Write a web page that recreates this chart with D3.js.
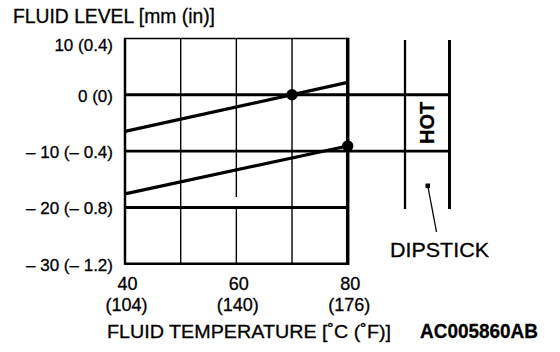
<!DOCTYPE html>
<html>
<head>
<meta charset="utf-8">
<script src="https://cdn.jsdelivr.net/npm/d3@7"></script>
<style>
  body { margin: 0; background: #fff; }
  text { font-family: "Liberation Sans", Arial, Helvetica, sans-serif; fill: #000; stroke: #000; stroke-width: 0.3px; }
</style>
</head>
<body>
<div id="chart"></div>
<script>
// temperature ticks (deg C) and their deg F labels
var tempC = [40, 60, 80];
var tempF = ["(104)", "(140)", "(176)"];
var gridC = [40, 50, 60, 70, 80];

// fluid level ticks, mm and inch labels
var levelMm = [10, 0, -10, -20, -30];
var levelIn = ["(0.4)", "(0)", "(– 0.4)", "(– 0.8)", "(– 1.2)"];
var levelMmText = ["10", "0", "– 10", "– 20", "– 30"];
var heavyLevels = [0, -10, -20];
var hotLevels = [0, -10];

// the two sloped lines
var upperTemp = [40, 80];
var upperLevel = [-6.5, 2.2];
var lowerTemp = [40, 80];
var lowerLevel = [-17.6, -9.1];

// marked points
var dotTemp = [70, 80];
var dotLevel = [0, -9.1];

var svg = d3.select("#chart").append("svg")
    .attr("width", 560)
    .attr("height", 352);

var x = d3.scaleLinear().domain([40, 80]).range([125, 347.7]);
var y = d3.scaleLinear().domain([10, -30]).range([38.5, 263.7]);

var dipLeft = 405, dipRight = 449.5, dipTop = 40, dipBottom = 209;

// interior vertical grid lines
gridC.filter(function (d) { return d != 40 && d != 80; }).forEach(function (d) {
    if (d == 60) {
        // the 60 line has a small break above the -20 line
        svg.append("line").attr("x1", x(d)).attr("x2", x(d))
            .attr("y1", y(10)).attr("y2", 197)
            .attr("stroke", "#000").attr("stroke-width", 1.4);
        svg.append("line").attr("x1", x(d)).attr("x2", x(d))
            .attr("y1", 206).attr("y2", y(-30))
            .attr("stroke", "#000").attr("stroke-width", 1.4);
    } else {
        svg.append("line").attr("x1", x(d)).attr("x2", x(d))
            .attr("y1", y(10)).attr("y2", y(-30))
            .attr("stroke", "#000").attr("stroke-width", 1.4);
    }
});

// top and bottom border
svg.append("line").attr("x1", x(40)).attr("x2", x(80))
    .attr("y1", y(10)).attr("y2", y(10))
    .attr("stroke", "#000").attr("stroke-width", 1.5);
svg.append("line").attr("x1", x(40)).attr("x2", x(80))
    .attr("y1", y(-30)).attr("y2", y(-30))
    .attr("stroke", "#000").attr("stroke-width", 2.5);

// heavy level lines, 0 and -10 run on to the dipstick
heavyLevels.forEach(function (d) {
    var toX = hotLevels.indexOf(d) >= 0 ? dipRight : x(80);
    svg.append("line").attr("x1", x(40)).attr("x2", toX)
        .attr("y1", y(d)).attr("y2", y(d))
        .attr("stroke", "#000").attr("stroke-width", d == -10 ? 2.6 : 3);
});

// left and right borders
svg.append("line").attr("x1", x(40)).attr("x2", x(40))
    .attr("y1", y(10) - 0.7).attr("y2", y(-30) + 1.2)
    .attr("stroke", "#000").attr("stroke-width", 2.5);
svg.append("line").attr("x1", x(80)).attr("x2", x(80))
    .attr("y1", y(10) - 0.7).attr("y2", y(-30) + 1.2)
    .attr("stroke", "#000").attr("stroke-width", 3.5);

// sloped lines
var line = d3.line()
    .x(function (d) { return x(d[0]); })
    .y(function (d) { return y(d[1]); });

svg.append("path")
    .datum(d3.zip(upperTemp, upperLevel))
    .attr("d", line)
    .attr("fill", "none").attr("stroke", "#000").attr("stroke-width", 3.2);
svg.append("path")
    .datum(d3.zip(lowerTemp, lowerLevel))
    .attr("d", line)
    .attr("fill", "none").attr("stroke", "#000").attr("stroke-width", 3.2);

// dots
svg.selectAll("circle.dot")
    .data(d3.zip(dotTemp, dotLevel))
    .enter().append("circle")
    .attr("class", "dot")
    .attr("cx", function (d) { return x(d[0]); })
    .attr("cy", function (d) { return y(d[1]); })
    .attr("r", 5.7)
    .attr("fill", "#000");

// dipstick
svg.append("line").attr("x1", dipLeft).attr("x2", dipLeft)
    .attr("y1", dipTop).attr("y2", dipBottom)
    .attr("stroke", "#000").attr("stroke-width", 2.3);
svg.append("line").attr("x1", dipRight).attr("x2", dipRight)
    .attr("y1", dipTop).attr("y2", dipBottom)
    .attr("stroke", "#000").attr("stroke-width", 3);

svg.append("text")
    .attr("transform", "translate(434," + ((y(0) + y(-10)) / 2) + ") rotate(-90)")
    .attr("text-anchor", "middle")
    .style("font-size", "20px")
    .style("font-weight", "bold")
    .text("HOT");

svg.append("rect").attr("x", 425.5).attr("y", 183.5).attr("width", 4.5).attr("height", 4.5)
    .attr("fill", "#000");
svg.append("line").attr("x1", 428).attr("x2", 436.5)
    .attr("y1", 187).attr("y2", 232)
    .attr("stroke", "#000").attr("stroke-width", 1.3);

svg.append("text")
    .attr("x", 390).attr("y", 257)
    .attr("textLength", 99).attr("lengthAdjust", "spacingAndGlyphs")
    .style("font-size", "21px")
    .text("DIPSTICK");

// y tick labels
svg.selectAll("text.ylab")
    .data(levelMm)
    .enter().append("text")
    .attr("class", "ylab")
    .attr("x", 113)
    .attr("y", function (d, i) { return y(d) + (i == 0 ? 7 : 1); })
    .attr("dy", "0.35em")
    .attr("text-anchor", "end")
    .style("font-size", "17px")
    .text(function (d, i) { return levelMmText[i] + " " + levelIn[i]; });

// x tick labels
svg.selectAll("text.xlab")
    .data(tempC)
    .enter().append("text")
    .attr("class", "xlab")
    .attr("x", function (d) { return x(d) + 2.5; })
    .attr("y", 289.5)
    .attr("text-anchor", "middle")
    .style("font-size", "18px")
    .text(function (d) { return d; });
svg.selectAll("text.xlabf")
    .data(tempF)
    .enter().append("text")
    .attr("class", "xlabf")
    .attr("x", function (d, i) { return x(tempC[i]) + 1.5; })
    .attr("y", 311)
    .attr("text-anchor", "middle")
    .style("font-size", "18px")
    .text(function (d) { return d; });

// titles
svg.append("text")
    .attr("x", 13).attr("y", 23)
    .attr("textLength", 202).attr("lengthAdjust", "spacingAndGlyphs")
    .style("font-size", "19.5px")
    .text("FLUID LEVEL [mm (in)]");

svg.append("text")
    .attr("x", 107).attr("y", 338)
    .attr("textLength", 284).attr("lengthAdjust", "spacingAndGlyphs")
    .style("font-size", "18.5px")
    .text("FLUID TEMPERATURE [˚C (˚F)]");

svg.append("text")
    .attr("x", 420).attr("y", 338)
    .attr("textLength", 118).attr("lengthAdjust", "spacingAndGlyphs")
    .style("font-size", "20px")
    .style("font-weight", "bold")
    .text("AC005860AB");
</script>
</body>
</html>
